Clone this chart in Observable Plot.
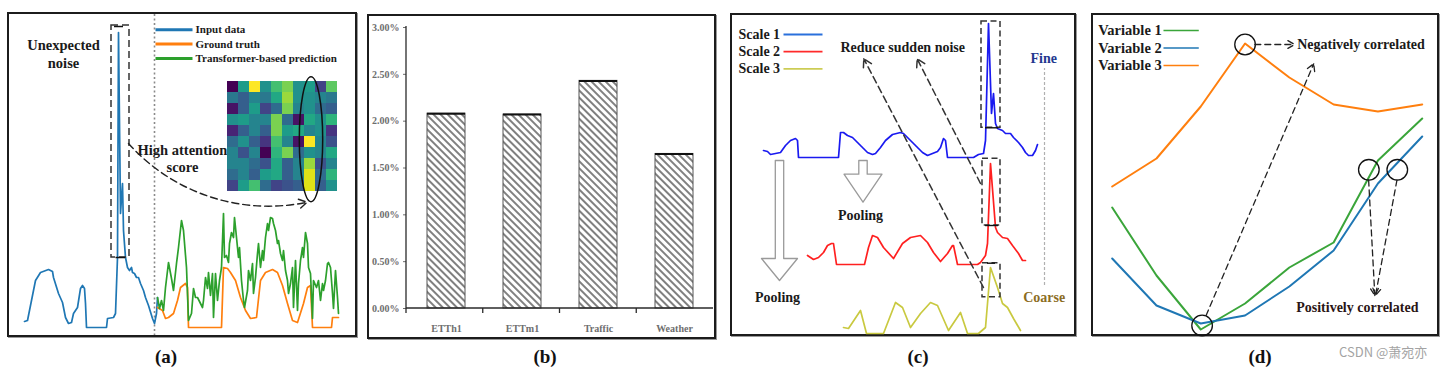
<!DOCTYPE html>
<html><head><meta charset="utf-8">
<script src="https://cdn.jsdelivr.net/npm/d3@7"></script>
<script src="https://cdn.jsdelivr.net/npm/@observablehq/plot@0.6"></script>
<style>
body{margin:0;background:#fff;}
#page{position:relative;width:1453px;height:378px;overflow:hidden;font-family:"Liberation Serif",serif;}
.panel{position:absolute;border:2px solid #1c1c1c;box-shadow:1px 1px 0 #9a9a9a;background:#fff;}
.panel > svg{position:absolute;}
.panel svg text{font-family:"Liberation Serif",serif;}
.lab{position:absolute;font-weight:bold;font-size:19px;transform:translate(-50%,-50%);color:#111;}
.wm{position:absolute;font-family:"Noto Sans CJK SC","Noto Sans",sans-serif;font-size:13px;color:#a3a3a3;transform:translateY(-50%);}
</style></head><body><div id="page"></div>
<script>
// ================= DATA =================
// (a) time step / amplitude readings
const inputData = [[0,6],[3,7],[11,47],[16,55],[24,58],[28,56],[29,50],[34,34],[38,25],[41,10],[44,4],[47,5],[49,14],[53,20],[56,39],[58,42],[60,39],[61,24],[62,0],[82,0],[83,9],[89,10],[91,14],[93,70],[94,295],[96,114],[98,144],[99,97],[101,70],[103,60],[105,57],[107,60],[108,55],[110,54],[112,50],[114,50],[116,44],[119,37],[121,30],[124,22],[128,9],[130,4],[132,14],[133,30]];
const truthData = [[133,20],[138,17],[141,9],[144,10],[149,14],[153,27],[156,40],[161,44],[163,40],[164,0],[197,0],[199,60],[203,59],[206,55],[211,47],[216,30],[221,17],[226,9],[232,10],[236,47],[241,55],[248,58],[253,55],[258,42],[263,24],[268,7],[273,5],[279,24],[283,40],[286,42],[288,0],[307,0],[308,10],[314,10]];
const predData = [[133,30],[135,19],[137,27],[139,17],[141,40],[144,65],[147,49],[149,37],[152,64],[154,80],[157,107],[159,97],[162,60],[164,7],[167,14],[169,39],[171,30],[173,30],[176,24],[178,20],[179,27],[181,50],[183,39],[184,55],[186,32],[188,54],[189,10],[191,54],[193,27],[195,47],[197,60],[199,114],[200,70],[202,72],[204,65],[205,84],[207,95],[209,90],[210,110],[212,90],[214,70],[215,80],[217,47],[219,27],[220,20],[223,37],[224,57],[226,47],[228,64],[229,34],[231,50],[233,74],[234,84],[236,60],[238,77],[239,67],[241,90],[243,104],[244,97],[246,110],[248,109],[249,104],[251,97],[253,84],[254,87],[256,74],[258,67],[259,77],[261,57],[263,47],[264,34],[266,44],[268,60],[269,20],[271,67],[273,17],[274,44],[276,67],[278,80],[279,70],[281,95],[283,84],[284,60],[286,54],[288,9],[289,47],[292,40],[294,47],[296,27],[298,44],[299,37],[301,47],[303,64],[304,65],[306,60],[308,34],[309,19],[311,57],[313,30],[314,14]];
const legendA = ["Input data", "Ground truth", "Transformer-based prediction"];
const attention = [
  [0.00,0.55,1.00,0.50,0.70,0.80,0.50,0.55,0.20,0.75],
  [0.40,0.30,0.45,0.40,0.60,0.85,0.50,0.50,0.45,0.40],
  [0.05,0.30,0.55,0.20,0.35,0.80,0.45,0.50,0.35,0.30],
  [0.50,0.55,0.45,0.45,0.80,0.35,0.05,0.60,0.50,0.65],
  [0.10,0.30,0.45,0.30,0.80,0.55,0.60,0.45,0.50,0.15],
  [0.35,0.50,0.30,0.15,0.70,0.45,0.05,1.00,0.45,0.25],
  [0.45,0.25,0.45,0.00,0.65,0.80,0.35,0.50,0.45,0.60],
  [0.45,0.45,0.35,0.25,0.60,0.30,0.45,0.85,0.25,0.45],
  [0.35,0.45,0.30,0.55,0.60,0.30,0.45,0.95,0.35,0.65],
  [0.20,0.55,0.70,0.35,0.20,0.25,0.30,0.95,0.30,0.50]
];
// (b)
const datasets = ["ETTh1", "ETTm1", "Traffic", "Weather"];
const improvement = [0.0208, 0.0207, 0.0243, 0.0165];
const yTicksB = [0, 0.005, 0.01, 0.015, 0.02, 0.025, 0.03];
// (c) time / amplitude above each series' own baseline
const scale1 = [[0,7],[4,6],[7,3],[12,4],[17,5],[22,12],[27,17],[32,19],[34,17],[35,0],[75,0],[77,25],[80,25],[84,22],[89,20],[94,15],[99,10],[104,5],[109,3],[112,4],[117,10],[122,17],[129,23],[137,25],[140,24],[144,20],[149,15],[154,10],[159,5],[164,2],[169,4],[174,6],[177,10],[180,19],[182,17],[184,0],[210,0],[215,3],[220,4],[222,17],[225,134],[228,44],[230,64],[232,34],[234,29],[239,27],[242,24],[247,24],[250,20],[255,15],[259,10],[262,5],[265,2],[269,2],[272,7],[274,13]];
const scale2 = [[44,9],[47,7],[50,5],[55,7],[60,12],[64,19],[68,21],[70,21],[73,0],[101,0],[105,17],[109,29],[114,27],[120,17],[130,6],[139,21],[147,27],[157,29],[164,22],[170,12],[177,3],[184,11],[189,19],[190,19],[194,0],[214,0],[217,2],[222,9],[224,21],[227,101],[232,37],[234,32],[239,27],[244,26],[249,19],[255,11],[259,4],[262,4]];
const scale3 = [[80,6],[85,5],[97,23],[103,0],[120,0],[132,31],[139,26],[147,6],[157,20],[167,31],[174,28],[185,3],[197,21],[204,0],[215,0],[222,6],[227,66],[234,46],[239,30],[244,26],[250,15],[257,3]];
const legendC = ["Scale 1", "Scale 2", "Scale 3"];
// (d)
const steps = [0, 1, 2, 3, 4, 5, 6, 7];
const variable1 = [128, 60, 6, 32, 68, 93, 175, 217];
const variable2 = [77, 30, 12, 20, 49, 85, 152, 199];
const variable3 = [149, 177, 229, 292, 258, 231, 224, 231];
const legendD = ["Variable 1", "Variable 2", "Variable 3"];
const panelLabels = ["(a)", "(b)", "(c)", "(d)"];
const watermark = "CSDN @萧宛亦";

// ================= LAYOUT =================
const page = document.getElementById("page");
function panel(left, top, w, h) {
  const d = document.createElement("div");
  d.className = "panel";
  Object.assign(d.style, {left: left + "px", top: top + "px", width: w + "px", height: h + "px"});
  page.appendChild(d);
  return d;
}
const serif = "Liberation Serif";
const T = {fontFamily: serif, fontWeight: "bold"};
const pairs = (arr) => arr.map(([x, y]) => ({x, y}));

// ---------- Panel (a) ----------
const pa = panel(7, 12, 346, 321);
const colA = ["#1f77b4", "#ff7f0e", "#2ca02c"];
const plotA = Plot.plot({
  width: 346, height: 321, margin: 0,
  x: {domain: [-15, 331], axis: null},
  y: {domain: [-8, 313], axis: null},
  style: {fontFamily: serif, background: "transparent", color: "#111", overflow: "visible"},
  marks: [
    Plot.ruleX([130], {stroke: "#8a8a8a", strokeWidth: 1.6, strokeDasharray: "2,2.5"}),
    Plot.line(pairs(inputData), {x: "x", y: "y", stroke: colA[0], strokeWidth: 1.7}),
    Plot.line(pairs(truthData), {x: "x", y: "y", stroke: colA[1], strokeWidth: 1.7}),
    Plot.line(pairs(predData), {x: "x", y: "y", stroke: colA[2], strokeWidth: 1.7}),
    Plot.rect([{x1: 87, x2: 105, y1: 70, y2: 302}], {x1: "x1", x2: "x2", y1: "y1", y2: "y2", fill: "none", stroke: "#333", strokeWidth: 1.5, strokeDasharray: "7,4"}),
    Plot.ruleY([70], {x1: 91.5, x2: 101, stroke: "#111", strokeWidth: 1.5}),
    Plot.ruleY([301], {x1: 90, x2: 99, stroke: "#111", strokeWidth: 1.5}),
    Plot.arrow([{x1: 104, y1: 184, x2: 282.7, y2: 125.3}], {x1: "x1", y1: "y1", x2: "x2", y2: "y2", bend: -30, stroke: "#222", strokeWidth: 1.4, strokeDasharray: "7,4", headLength: 10}),
    Plot.text(["Unexpected", "noise"], {...T, x: 39, y: [282, 264], text: d => d, fontSize: 14.5, fill: "#1a1a1a"}),
    Plot.text(["High attention"], {...T, x: 113, y: 177, text: d => d, textAnchor: "start", fontSize: 14.5, fill: "#1a1a1a"}),
    Plot.text(["score"], {...T, x: 158, y: 160, text: d => d, fontSize: 14.5, fill: "#1a1a1a"}),
    Plot.link(legendA, {x1: 131, x2: 168, y1: (d, i) => 297.7 - i * 14.3, y2: (d, i) => 297.7 - i * 14.3, stroke: (d, i) => colA[i], strokeWidth: 3}),
    Plot.text(legendA, {...T, x: 171, y: (d, i) => 297.7 - i * 14.3, text: d => d, textAnchor: "start", fontSize: 11, fill: "#1a1a1a"})
  ]
});
plotA.style.left = "0px"; plotA.style.top = "0px";
pa.appendChild(plotA);

const cells = attention.flatMap((row, r) => row.map((v, c) => ({r, c, v})));
const plotH = Plot.plot({
  width: 120, height: 132, marginLeft: 4.7, marginTop: 6.7, marginRight: 4.3, marginBottom: 14.3,
  x: {axis: null, padding: 0},
  y: {axis: null, padding: 0},
  color: {type: "linear", scheme: "viridis", domain: [0, 1]},
  style: {background: "transparent", overflow: "visible"},
  marks: [
    Plot.cell(cells, {x: "c", y: "r", fill: "v"}),
    (index, scales, values, dims) => {
      const bw = scales.x.bandwidth ? scales.x.bandwidth() : 11.1;
      const cx = scales.x(7) + bw / 2 + 1.5;
      const cy = dims.marginTop + (dims.height - dims.marginTop - dims.marginBottom) / 2 + 3;
      const e = d3.create("svg:ellipse").attr("cx", cx).attr("cy", cy).attr("rx", 11.7).attr("ry", 62.5)
        .attr("fill", "none").attr("stroke", "#111").attr("stroke-width", 1.5);
      return e.node();
    }
  ]
});
plotH.style.left = "213px"; plotH.style.top = "60px";
pa.appendChild(plotH);

// ---------- Panel (b) ----------
const pb = panel(367, 14, 345, 321);
const barRows = datasets.map((name, i) => ({name, value: improvement[i]}));
const plotB = Plot.plot({
  width: 345, height: 321, marginLeft: 37, marginRight: 1, marginTop: 11, marginBottom: 29,
  x: {domain: datasets, paddingInner: 0.5, paddingOuter: 0.25, tickSize: 0, tickPadding: 16, label: null},
  y: {domain: [0, 0.03], ticks: yTicksB, tickFormat: d3.format(".2%"), tickSize: 3, tickPadding: 4, label: null},
  style: {fontFamily: serif, fontSize: "10px", fontWeight: "bold", color: "#6e6e6e", background: "transparent"},
  marks: [
    () => {
      const g = d3.create("svg:g");
      const p = g.append("defs").append("pattern").attr("id", "hatchB").attr("patternUnits", "userSpaceOnUse")
        .attr("width", 5).attr("height", 10).attr("patternTransform", "rotate(-45)");
      p.append("rect").attr("width", 5).attr("height", 10).attr("fill", "#fff");
      p.append("line").attr("x1", 1).attr("x2", 1).attr("y1", 0).attr("y2", 10).attr("stroke", "#555").attr("stroke-width", 1.5);
      return g.node();
    },
    Plot.barY(barRows, {x: "name", y: "value", fill: "url(#hatchB)", stroke: "#555", strokeWidth: 1}),
    Plot.tickY(barRows, {x: "name", y: "value", stroke: "#111", strokeWidth: 2}),
    (index, scales, values, dims) => {
      const {width, height, marginLeft, marginRight, marginTop, marginBottom} = dims;
      const y0 = height - marginBottom, x0 = marginLeft, x1 = width - marginRight;
      const step = (x1 - x0) / datasets.length;
      const g = d3.create("svg:g").attr("stroke", "#2a2a2a").attr("stroke-width", 1.3).attr("fill", "none");
      g.append("line").attr("x1", x0).attr("x2", x0).attr("y1", marginTop - 1).attr("y2", y0 + 5);
      g.append("line").attr("x1", x0).attr("x2", x1).attr("y1", y0).attr("y2", y0);
      for (let k = 1; k < datasets.length; k++) {
        g.append("line").attr("x1", x0 + k * step).attr("x2", x0 + k * step).attr("y1", y0).attr("y2", y0 + 5);
      }
      return g.node();
    }
  ]
});
plotB.style.left = "0px"; plotB.style.top = "0px";
pb.appendChild(plotB);

// ---------- Panel (c) ----------
const pc = panel(730, 13, 342, 319);
const colC = ["#1a1af0", "#ff2020", "#c9c940"];
const legColC = ["#2a70dc", "#ff2a2a", "#cccc55"];
const baseC = [178, 71, 2];       // vertical placement of each scale's baseline
const seriesC = [scale1, scale2, scale3];
function hollowArrow(a) {
  const {x, top, tip, shaft, head, headLen} = a;
  const pts = [[x - shaft, top], [x + shaft, top], [x + shaft, tip + headLen], [x + head, tip + headLen], [x, tip], [x - head, tip + headLen], [x - shaft, tip + headLen]];
  return pts.map(([px, py]) => ({x: px, y: py}));
}
const poolArrows = [{x: 16, top: 175, tip: 55, shaft: 4.2, head: 18, headLen: 22}, {x: 99.5, top: 175, tip: 133.3, shaft: 4.2, head: 19, headLen: 28}];
const plotC = Plot.plot({
  width: 342, height: 319, margin: 0,
  x: {domain: [-31, 311], axis: null},
  y: {domain: [1, 320], axis: null},
  style: {fontFamily: serif, background: "transparent", color: "#111", overflow: "visible"},
  marks: [
    poolArrows.map(a => Plot.line(hollowArrow(a), {x: "x", y: "y", curve: "linear-closed", stroke: "#9a9a9a", strokeWidth: 1.3})),
    Plot.text(["Pooling", "Pooling"], {...T, x: [14, 97], y: [38, 120], text: d => d, fontSize: 14, fill: "#1a1a1a"}),
    seriesC.map((s, k) => Plot.line(s.map(([t, a]) => ({x: t, y: a + baseC[k]})), {x: "x", y: "y", stroke: colC[k], strokeWidth: 1.7})),
    Plot.rect([{x1: 218, x2: 237, y1: 207.7, y2: 314}, {x1: 219, x2: 237, y1: 110, y2: 176.7}, {x1: 219, x2: 237, y1: 38.3, y2: 72.3}],
      {x1: "x1", x2: "x2", y1: "y1", y2: "y2", fill: "none", stroke: "#333", strokeWidth: 1.5, strokeDasharray: "6,3.5"}),
    Plot.ruleY([207.7, 110], {x1: 222, x2: 235, stroke: "#111", strokeWidth: 1.4}),
    Plot.ruleY([72.3], {x1: 224, x2: 232, stroke: "#111", strokeWidth: 1.4}),
    Plot.arrow([{x1: 220, y1: 48, x2: 100.3, y2: 276.7}, {x1: 217, y1: 152, x2: 153.7, y2: 276.7}],
      {x1: "x1", y1: "y1", x2: "x2", y2: "y2", stroke: "#333", strokeWidth: 1.5, strokeDasharray: "7,4", headLength: 9}),
    Plot.ruleX([281], {y1: 50, y2: 267, stroke: "#b0b0b0", strokeWidth: 1.2, strokeDasharray: "3,2"}),
    Plot.text(["Reduce sudden noise"], {...T, x: 77, y: 288, text: d => d, textAnchor: "start", fontSize: 14, fill: "#1a1a1a"}),
    Plot.text(["Fine"], {...T, x: 267, y: 277, text: d => d, textAnchor: "start", fontSize: 14, fill: "#24388f"}),
    Plot.text(["Coarse"], {...T, x: 259.7, y: 38.3, text: d => d, textAnchor: "start", fontSize: 14, fill: "#8c6d1f"}),
    Plot.text(legendC, {...T, x: -25, y: (d, i) => 301 - i * 17.2, text: d => d, textAnchor: "start", fontSize: 14, fill: "#1a1a1a"}),
    Plot.link(legendC, {x1: 20, x2: 59, y1: (d, i) => 301 - i * 17.2, y2: (d, i) => 301 - i * 17.2, stroke: (d, i) => legColC[i], strokeWidth: 1.8})
  ]
});
plotC.style.left = "0px"; plotC.style.top = "0px";
pc.appendChild(plotC);

// ---------- Panel (d) ----------
const pd = panel(1091, 13, 344, 319);
const colD = ["#3aa53a", "#1f77b4", "#ff7f0e"];
const varsD = [variable1, variable2, variable3];
const plotD = Plot.plot({
  width: 344, height: 319, margin: 0,
  x: {domain: [-0.422, 7.345], axis: null},
  y: {domain: [1, 320], axis: null},
  style: {fontFamily: serif, background: "transparent", color: "#111", overflow: "visible"},
  marks: [
    varsD.map((vals, k) => Plot.line(steps.map((s, i) => ({x: s, y: vals[i]})), {x: "x", y: "y", stroke: colD[k], strokeWidth: 2})),
    Plot.dot([{x: 3, y: 291}, {x: 2.03, y: 10}, {x: 5.795, y: 165.7}, {x: 6.437, y: 165.7}], {x: "x", y: "y", r: 10.3, stroke: "#111", strokeWidth: 1.3, fill: "none"}),
    Plot.arrow([{x1: 3.22, y1: 291, x2: 4.12, y2: 291}, {x1: 2.12, y1: 20, x2: 4.55, y2: 271.7}, {x1: 5.79, y1: 155.5, x2: 5.93, y2: 40}, {x1: 6.43, y1: 155.5, x2: 5.945, y2: 40}],
      {x1: "x1", y1: "y1", x2: "x2", y2: "y2", stroke: "#222", strokeWidth: 1.3, strokeDasharray: "6,4", headLength: 9}),
    Plot.text(["Negatively correlated"], {...T, x: 4.177, y: 291, text: d => d, textAnchor: "start", fontSize: 14, fill: "#1a1a1a"}),
    Plot.text(["Positively correlated"], {...T, x: 4.155, y: 28.3, text: d => d, textAnchor: "start", fontSize: 14, fill: "#2a1515"}),
    Plot.text(legendD, {...T, x: -0.316, y: (d, i) => 305 - i * 17.5, text: d => d, textAnchor: "start", fontSize: 14.5, fill: "#1a1a1a"}),
    Plot.link(legendD, {x1: 1.158, x2: 1.955, y1: (d, i) => 305 - i * 17.5, y2: (d, i) => 305 - i * 17.5, stroke: (d, i) => colD[i], strokeWidth: 1.6})
  ]
});
plotD.style.left = "0px"; plotD.style.top = "0px";
pd.appendChild(plotD);

// ---------- captions ----------
const labX = [166, 545, 918, 1260];
panelLabels.forEach((t, i) => {
  const d = document.createElement("div");
  d.className = "lab"; d.textContent = t;
  d.style.left = labX[i] + "px"; d.style.top = "357px";
  page.appendChild(d);
});
const wm = document.createElement("div");
wm.className = "wm"; wm.textContent = watermark;
wm.style.left = "1339px"; wm.style.top = "351px";
page.appendChild(wm);
</script></body></html>
